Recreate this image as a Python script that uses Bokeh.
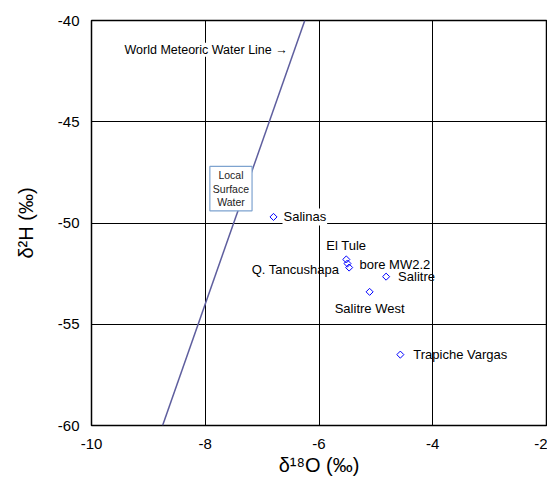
import numpy as np
from bokeh.plotting import figure
from bokeh.models import Range1d, FixedTicker, ColumnDataSource, Label
from bokeh.embed import file_html
from bokeh.resources import INLINE

# ---- data ----
sites = ["Salinas", "El Tule", "bore MW2.2", "Q. Tancushapa", "Salitre", "Salitre West", "Trapiche Vargas"]
d18O = [-6.80, -5.52, -5.50, -5.47, -4.82, -5.11, -4.57]
d2H = [-49.7, -51.8, -52.0, -52.2, -52.65, -53.4, -56.5]

wmwl_x = [-8.75, -6.25]
wmwl_y = [-60.0, -40.0]

x_ticks = [-10, -8, -6, -4, -2]
x_tick_labels = ["-10", "-8", "-6", "-4", "-2"]
y_ticks = [-60, -55, -50, -45, -40]
y_tick_labels = ["-60", "-55", "-50", "-45", "-40"]
x_title = "δ¹⁸O (‰)"
y_title = "δ²H (‰)"

FONT = "Liberation Sans"

# ---- label styles (pixel offsets) ----
lab_dx = [9, 0, 11, -9, 11, 0, 12]
lab_dy = [0, 14, -1, -2, 0, -17, 0]
lab_align = ["left", "center", "left", "right", "left", "center", "left"]
lab_bg = ["white", None, None, None, None, None, None]

p = figure(width=547, height=481, output_backend="svg", toolbar_location=None,
           x_range=Range1d(-10, -2), y_range=Range1d(-60, -40),
           min_border_left=91, min_border_right=1, min_border_top=20, min_border_bottom=56)

p.background_fill_color = "white"
p.border_fill_color = "white"
p.outline_line_color = "black"
p.outline_line_width = 1.5

p.xaxis.ticker = FixedTicker(ticks=x_ticks)
p.yaxis.ticker = FixedTicker(ticks=y_ticks)
p.xaxis.major_label_overrides = {t: s for t, s in zip(x_ticks, x_tick_labels)}
p.yaxis.major_label_overrides = {t: s for t, s in zip(y_ticks, y_tick_labels)}
for ax in (p.xaxis[0], p.yaxis[0]):
    ax.axis_line_color = None
    ax.major_tick_line_color = None
    ax.minor_tick_line_color = None
    ax.major_tick_out = 0
    ax.major_tick_in = 0
    ax.major_label_text_font = FONT
    ax.major_label_text_font_size = "15px"
    ax.major_label_text_color = "black"
    ax.axis_label_text_font = FONT
    ax.axis_label_text_font_size = "20px"
    ax.axis_label_text_font_style = "normal"
    ax.axis_label_text_color = "black"
p.xaxis.axis_label = x_title
p.yaxis.axis_label = y_title
p.xaxis.major_label_standoff = 13
p.yaxis.major_label_standoff = 12
p.xaxis.axis_label_standoff = 2
p.yaxis.axis_label_standoff = 18

p.grid.grid_line_color = "black"
p.grid.grid_line_width = 1

# World Meteoric Water Line
p.line(wmwl_x, wmwl_y, line_color="#5e5e9e", line_width=1.5)

src = ColumnDataSource(dict(x=d18O, y=d2H))
p.scatter("x", "y", source=src, marker="square", angle=np.pi / 4, size=5,
          fill_color=None, line_color="#0000ff", line_width=1)

for i in range(len(sites)):
    p.add_layout(Label(x=d18O[i], y=d2H[i], text=sites[i],
                       x_offset=lab_dx[i], y_offset=lab_dy[i],
                       text_align=lab_align[i], text_baseline="middle",
                       text_font=FONT, text_font_size="13px", text_color="black",
                       background_fill_color=lab_bg[i], padding=1))

# WMWL annotation
p.add_layout(Label(x=-9.42, y=-41.44, text="World Meteoric Water Line →",
                   text_align="left", text_baseline="middle", text_font=FONT,
                   text_font_size="12.5px", text_color="black",
                   background_fill_color="white"))

# Local Surface Water box
p.add_layout(Label(x=-7.548, y=-48.3, text="Local\nSurface\nWater",
                   text_align="center", text_baseline="middle", text_font=FONT,
                   text_font_size="10.5px", text_color="#222222", text_line_height=1.1,
                   background_fill_color="white", border_line_color="#7ea3cf",
                   border_line_width=1.2, padding=3))

open("out.html", "w").write(file_html(p, INLINE))
